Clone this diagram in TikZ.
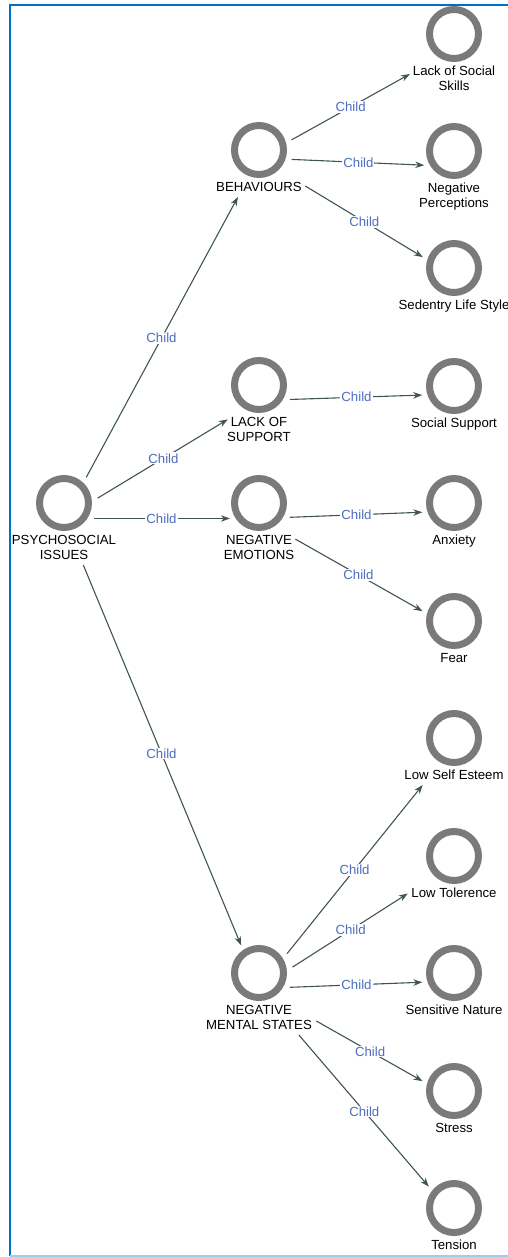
\documentclass[tikz,border=0pt]{standalone}
\usepackage{fontspec}
\setmainfont{Liberation Sans}
\usetikzlibrary{arrows.meta,positioning}
\definecolor{ringgrey}{HTML}{7A7A7A}
\definecolor{edgegrey}{HTML}{3F5553}
\definecolor{childblue}{HTML}{4E6DBF}
\definecolor{frameblue}{HTML}{0070C6}
\definecolor{framelight}{HTML}{A0CBEF}
\tikzset{
	ring/.style={circle, draw=ringgrey, line width=7pt, minimum size=49pt, inner sep=0pt, outer sep=0pt},
	ringtext/.style={align=center, inner sep=0pt, font=\fontsize{13.2}{15}\selectfont},
	childedge/.style={draw=edgegrey, line width=1.1pt, -{Stealth[length=9pt,width=6.5pt]}},
	childtag/.style={fill=white, text=childblue, inner sep=1pt, font=\fontsize{13.2}{15}\selectfont},
}
\def\concept(#1)(#2,#3)[#4]#5{%
	\node[ring] (#1) at (#2,#3) {};
	\node[ringtext, below=32pt of #1.center] (#1-t) {#5};
	\coordinate (#1-b) at ([yshift=-#4pt]#1.center);}

\begin{document}
\begin{tikzpicture}[x=1pt, y=-1pt]
			%%%%% START %%%%%
			\useasboundingbox (0,0) rectangle (508,1257);
			
			\draw[frameblue, line width=2pt] (508,5) -- (10,5) -- (10,1256);
			\draw[framelight, line width=1.3pt] (10,1256) -- (508,1256);
			
			\concept(psy)(64,503)[15.5]{PSYCHOSOCIAL\\ISSUES}
			\concept(beh)(259,150)[8]{BEHAVIOURS}
			\concept(lack)(259,385)[15.5]{LACK OF\\SUPPORT}
			\concept(emo)(259,503)[15.5]{NEGATIVE\\EMOTIONS}
			\concept(mental)(259,973)[15.5]{NEGATIVE\\MENTAL STATES}
			
			\concept(skills)(454,34)[15.5]{Lack of Social\\Skills}
			\concept(percep)(454,151)[15.5]{Negative\\Perceptions}
			\concept(sedentry)(454,268)[8]{Sedentry Life Style}
			\concept(support)(454,386)[8]{Social Support}
			\concept(anxiety)(454,503)[8]{Anxiety}
			\concept(fear)(454,621)[8]{Fear}
			\concept(esteem)(454,738)[8]{Low Self Esteem}
			\concept(tolerence)(454,856)[8]{Low Tolerence}
			\concept(sensitive)(454,973)[8]{Sensitive Nature}
			\concept(stress)(454,1091)[8]{Stress}
			\concept(tension)(454,1208)[8]{Tension}
			
			\draw[childedge, shorten <=46.8pt, shorten >=44.3pt] (psy-b) -- node[childtag, pos=0.5] {Child} (beh-b);
			\draw[childedge, shorten <=39.3pt, shorten >=36.5pt] (psy-b) -- node[childtag, pos=0.51] {Child} (lack-b);
			\draw[childedge, shorten <=30.3pt, shorten >=29.1pt] (psy-b) -- node[childtag, pos=0.5] {Child} (emo-b);
			\draw[childedge, shorten <=50.3pt, shorten >=46.8pt] (psy-b) -- node[childtag, pos=0.5] {Child} (mental-b);
			
			\draw[childedge, shorten <=37.2pt, shorten >=50.4pt] (beh-b) -- node[childtag, pos=0.47] {Child} (skills-b);
			\draw[childedge, shorten <=32.7pt, shorten >=29.8pt] (beh-b) -- node[childtag, pos=0.51] {Child} (percep-b);
			\draw[childedge, shorten <=54.1pt, shorten >=36.4pt] (beh-b) -- node[childtag, pos=0.54] {Child} (sedentry-b);
			
			\draw[childedge, shorten <=30.8pt, shorten >=31.8pt] (lack-b) -- node[childtag, pos=0.5] {Child} (support-b);
			
			\draw[childedge, shorten <=30.9pt, shorten >=31.7pt] (emo-b) -- node[childtag, pos=0.5] {Child} (anxiety-b);
			\draw[childedge, shorten <=41.8pt, shorten >=36.2pt] (emo-b) -- node[childtag, pos=0.51] {Child} (fear-b);
			
			\draw[childedge, shorten <=44.7pt, shorten >=50pt] (mental-b) -- node[childtag, pos=0.49] {Child} (esteem-b);
			\draw[childedge, shorten <=39.7pt, shorten >=54.9pt] (mental-b) -- node[childtag, pos=0.47] {Child} (tolerence-b);
			\draw[childedge, shorten <=30.9pt, shorten >=31.7pt] (mental-b) -- node[childtag, pos=0.5] {Child} (sensitive-b);
			\draw[childedge, shorten <=65.9pt, shorten >=36.2pt] (mental-b) -- node[childtag, pos=0.57] {Child} (stress-b);
			\draw[childedge, shorten <=61.2pt, shorten >=38.7pt] (mental-b) -- node[childtag, pos=0.54] {Child} (tension-b);
			
			%%%%% END %%%%%
\end{tikzpicture}
\end{document}
